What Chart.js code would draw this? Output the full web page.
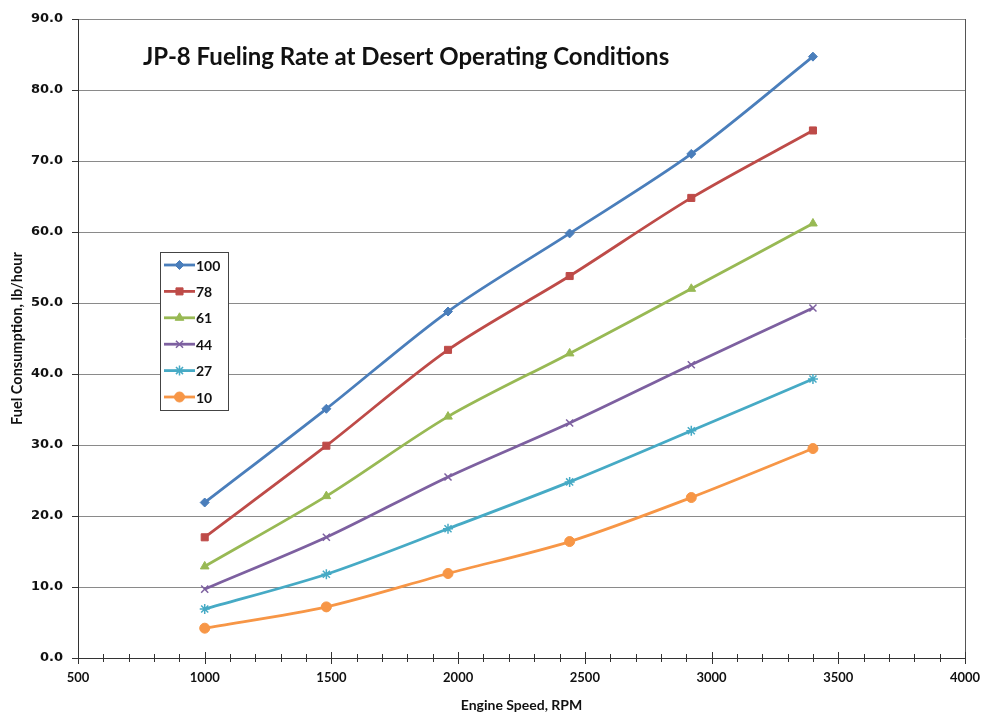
<!DOCTYPE html>
<html>
<head>
<meta charset="utf-8">
<script src="https://cdn.jsdelivr.net/npm/chart.js@4/dist/chart.umd.min.js"></script>
<style>
html,body{margin:0;padding:0;background:#fff;}
#wrap{width:982px;height:714px;position:relative;}
</style>
</head>
<body>
<div id="wrap"><canvas id="c" width="982" height="714"></canvas></div>
<script>
const chartTitle = "JP-8 Fueling Rate at Desert Operating Conditions";
const xTitle = "Engine Speed, RPM";
const yTitle = "Fuel Consumption, lb/hour";
const engineSpeed = [1000, 1480, 1960, 2440, 2920, 3400];
const seriesNames = ["100", "78", "61", "44", "27", "10"];
const s100 = [21.9, 35.1, 48.8, 59.8, 71.0, 84.7];
const s78  = [17.0, 29.9, 43.4, 53.8, 64.8, 74.3];
const s61  = [12.9, 22.8, 34.0, 42.9, 52.0, 61.2];
const s44  = [9.7, 17.0, 25.5, 33.1, 41.3, 49.3];
const s27  = [6.9, 11.8, 18.2, 24.8, 32.0, 39.3];
const s10  = [4.2, 7.2, 11.9, 16.4, 22.6, 29.5];
const seriesValues = [s100, s78, s61, s44, s27, s10];
const colors = ["#4A7EBB", "#BE4B48", "#98B954", "#7D60A0", "#46AAC5", "#F79646"];
const markers = ["rectRot", "rect", "triangle", "crossRot", "star", "circle"];
const markerSizes = [4.5, 5, 5, 5, 5, 5];

const datasets = seriesNames.map((n, i) => ({
  label: n,
  data: engineSpeed.map((x, j) => ({x: x, y: seriesValues[i][j]})),
  borderColor: colors[i],
  backgroundColor: colors[i],
  pointStyle: markers[i],
  pointRadius: markerSizes[i],
  pointBorderWidth: (markers[i] === "crossRot" || markers[i] === "star") ? 1.5 : 1,
  borderWidth: 2.8,
  tension: 0.3,
  fill: false
}));

function drawMarker(ctx, style, x, y, r, color, bw) {
  ctx.save();
  ctx.fillStyle = color; ctx.strokeStyle = color; ctx.lineWidth = bw;
  if (Chart.helpers && Chart.helpers.drawPoint) {
    Chart.helpers.drawPoint(ctx, {pointStyle: style, radius: r, borderWidth: bw, rotation: 0}, x, y);
  } else {
    ctx.beginPath(); ctx.arc(x, y, r, 0, Math.PI*2); ctx.fill();
  }
  ctx.restore();
}

const overlay = {
  id: 'overlay',
  afterDraw(chart) {
    const ctx = chart.ctx;
    const a = chart.chartArea;
    const xs = chart.scales.x;
    ctx.save();
    // right border
    ctx.strokeStyle = "#555"; ctx.lineWidth = 1;
    ctx.beginPath(); ctx.moveTo(a.right + 0.5, a.top); ctx.lineTo(a.right + 0.5, a.bottom); ctx.stroke();
    // x tick marks
    ctx.strokeStyle = "#333";
    for (let v = 500; v <= 4000; v += 100) {
      const px = Math.round(xs.getPixelForValue(v)) + 0.5;
      const major = v % 500 === 0;
      ctx.beginPath();
      ctx.moveTo(px, a.bottom - (major ? 6 : 4));
      ctx.lineTo(px, a.bottom + (major ? 6 : 4));
      ctx.stroke();
    }
    // title
    ctx.fillStyle = "#111";
    ctx.font = "bold 24px Lato, 'Open Sans', sans-serif";
    ctx.textBaseline = "middle"; ctx.textAlign = "left";
    ctx.fillText(chartTitle, 143, 57);
    // legend
    const lx = 160, ly = 252, lw = 68, lh = 158;
    ctx.fillStyle = "#fff";
    ctx.fillRect(lx, ly, lw, lh);
    ctx.strokeStyle = "#444"; ctx.lineWidth = 1;
    ctx.strokeRect(lx + 0.5, ly + 0.5, lw, lh);
    chart.data.datasets.forEach((d, i) => {
      const y = 265 + i * 26.4;
      ctx.strokeStyle = d.borderColor; ctx.lineWidth = 2.8;
      ctx.beginPath(); ctx.moveTo(164, y); ctx.lineTo(195, y); ctx.stroke();
      drawMarker(ctx, d.pointStyle, 179.5, y, d.pointRadius, d.borderColor, d.pointBorderWidth);
      ctx.fillStyle = "#111";
      ctx.font = "bold 14px Lato, 'Open Sans', sans-serif";
      ctx.textAlign = "left"; ctx.textBaseline = "middle";
      ctx.fillText(d.label, 196, y + 1);
    });
    ctx.restore();
  }
};

new Chart(document.getElementById('c'), {
  type: 'line',
  data: { datasets: datasets },
  options: {
    responsive: false,
    animation: false,
    layout: { padding: { top: 19, right: 17, left: 0, bottom: 0 } },
    plugins: { legend: { display: false }, tooltip: { enabled: false }, title: { display: false } },
    scales: {
      x: {
        type: 'linear', min: 500, max: 4000,
        afterFit: s => { s.height = 56; s.paddingRight = 0; },
        border: { display: true, color: "#333", width: 1 },
        grid: { display: false, drawTicks: false },
        ticks: {
          stepSize: 500, padding: 12, color: "#111",
          callback: v => String(v),
          font: { family: "Lato, 'Open Sans', sans-serif", size: 13, weight: 'bold' },
          maxRotation: 0, autoSkip: false
        },
        title: {
          display: true, text: xTitle, color: "#111", padding: { top: 2, bottom: 0 },
          font: { family: "Lato, 'Open Sans', sans-serif", size: 14, weight: 'bold' }
        }
      },
      y: {
        type: 'linear', min: 0, max: 90,
        afterFit: s => { s.width = 78; },
        border: { display: true, color: "#333", width: 1 },
        grid: { color: "#8a8a8a", lineWidth: 1, tickColor: "#333", tickLength: 6, drawTicks: true },
        ticks: {
          stepSize: 10, padding: 9, color: "#111",
          callback: v => Number(v).toFixed(1),
          font: { family: "'DejaVu Sans', sans-serif", size: 13, weight: 'bold' }
        },
        title: {
          display: true, text: yTitle, color: "#111", padding: { top: 9, bottom: 0 },
          font: { family: "Lato, 'Open Sans', sans-serif", size: 14.5, weight: 'bold' }
        }
      }
    }
  },
  plugins: [overlay]
});
</script>
</body>
</html>
